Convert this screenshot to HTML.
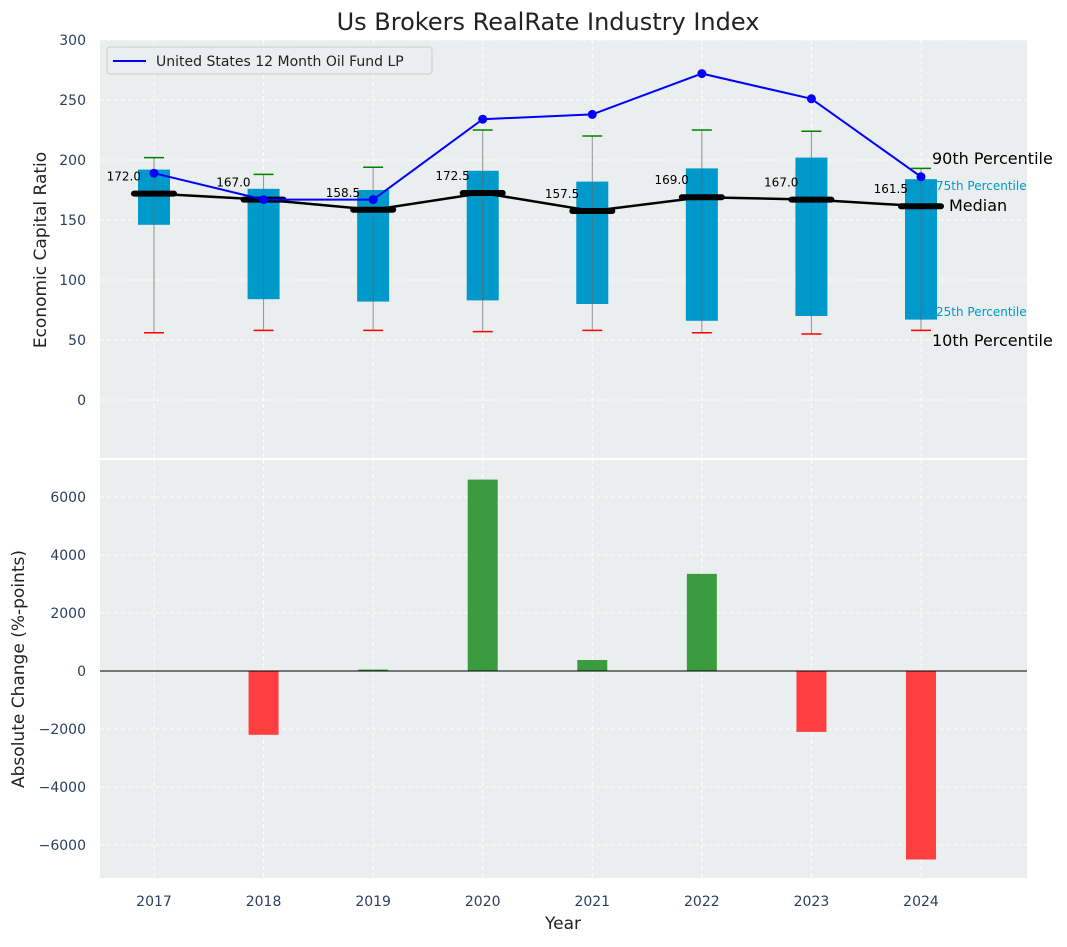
<!DOCTYPE html>
<html><head><meta charset="utf-8"><style>
body{margin:0;background:#fff;font-family:"Liberation Sans","DejaVu Sans",sans-serif}
text{font-family:"DejaVu Sans","Liberation Sans",sans-serif}
</style></head><body>
<svg id="c" width="1067" height="942" xmlns="http://www.w3.org/2000/svg">
<text x="548" y="30" text-anchor="middle" font-size="24" fill="#222">Us Brokers RealRate Industry Index</text>
<rect x="100" y="40" width="927" height="418" fill="#eaeeee"/>
<rect x="100" y="460" width="927" height="418" fill="#eaeeee"/>
<g id="g"></g>
<text transform="translate(46,250) rotate(-90)" text-anchor="middle" font-size="17" fill="#222">Economic Capital Ratio</text>
<text transform="translate(24,669) rotate(-90)" text-anchor="middle" font-size="17" fill="#222">Absolute Change (%-points)</text>
<text x="563" y="929" text-anchor="middle" font-size="17" fill="#222">Year</text>
<g>
<rect x="107" y="47" width="325" height="27" rx="3" fill="#eaeeee" stroke="#ccc"/>
<line x1="113" y1="61" x2="146" y2="61" stroke="#0000ff" stroke-width="2"/>
<text x="156" y="66" font-size="14" fill="#222">United States 12 Month Oil Fund LP</text>
</g>
<g font-size="16" fill="#000">
<text x="932" y="164">90th Percentile</text>
<text x="936" y="190" font-size="12" fill="#0099cc">75th Percentile</text>
<text x="949" y="211">Median</text>
<text x="936" y="316" font-size="12" fill="#0099cc">25th Percentile</text>
<text x="932" y="346">10th Percentile</text>
</g>
</svg>
<script>
const years=[2017,2018,2019,2020,2021,2022,2023,2024];
const q1=[146,84,82,83,80,66,70,67];
const q3=[192,176,175,191,182,193,202,184];
const p10=[56,58,58,57,58,56,55,58];
const p90=[202,188,194,225,220,225,224,193];
const med=[172,167,158.5,172.5,157.5,169,167,161.5];
const oil=[189,167,167,234,238,272,251,186];
const chg=[0,-2200,50,6600,380,3350,-2100,-6500];
const topTicks=[0,50,100,150,200,250,300];
const botTicks=[-6000,-4000,-2000,0,2000,4000,6000];
const NS="http://www.w3.org/2000/svg",g=document.getElementById('g');
const X=v=>154+(v-2017)*109.57;
const Y=v=>400-v*1.2;
const Y2=v=>671-v*0.029;
function el(t,a,txt){const e=document.createElementNS(NS,t);for(const k in a)e.setAttribute(k,a[k]);if(txt!=null)e.textContent=txt;g.appendChild(e);return e;}
topTicks.forEach(t=>{
 const l=el('line',{x1:100,x2:1027,y1:Y(t),y2:Y(t),stroke:'#fff','stroke-dasharray':'4,3'});
 
 const s=el('text',{x:86,y:Y(t)+5,'text-anchor':'end','font-size':14,fill:'#2a3f5f'},String(t));
 
});
botTicks.forEach(t=>{
 const l=el('line',{x1:100,x2:1027,y1:Y2(t),y2:Y2(t),stroke:'#fff','stroke-dasharray':'4,3'});
 
 const s=el('text',{x:86,y:Y2(t)+5,'text-anchor':'end','font-size':14,fill:'#2a3f5f'},String(t).replace('-','\u2212'));
 
});
years.forEach((y,i)=>{
 const x=X(y);
 let l=el('line',{x1:x,x2:x,y1:40,y2:458,stroke:'#fff','stroke-dasharray':'4,3'});
 
 l=el('line',{x1:x,x2:x,y1:460,y2:878,stroke:'#fff','stroke-dasharray':'4,3'});
 
 const t=el('text',{x:x,y:906,'text-anchor':'middle','font-size':14,fill:'#2a3f5f'},String(y));
 
 const b=el('rect',{x:x-16,y:Y(q3[i]),width:32,height:Y(q1[i])-Y(q3[i]),fill:'#0099cc'});
 
 const w=el('line',{x1:x,x2:x,y1:Y(p90[i]),y2:Y(p10[i]),stroke:'#666','stroke-opacity':0.7,'stroke-width':1});
 
 const c1=el('line',{x1:x-10,x2:x+10,y1:Y(p90[i]),y2:Y(p90[i]),stroke:'green','stroke-width':1.5});
 
 const c2=el('line',{x1:x-10,x2:x+10,y1:Y(p10[i]),y2:Y(p10[i]),stroke:'red','stroke-width':1.5});
 
 const v=chg[i];
 const r=el('rect',{x:x-15,y:Math.min(Y2(v),Y2(0)),width:30,height:Math.abs(Y2(v)-Y2(0)),fill:v>=0?'#3a9c3e':'#ff3f3f'});
 
});
let mp=el('polyline',{points:years.map((y,i)=>X(y)+','+Y(med[i])).join(' '),fill:'none',stroke:'#000','stroke-width':2.5});

years.forEach((y,i)=>{
 const x=X(y);
 const m=el('line',{x1:x-20,x2:x+20,y1:Y(med[i]),y2:Y(med[i]),stroke:'#000','stroke-width':6,'stroke-linecap':'round'});
 
 const t=el('text',{x:x-13,y:Y(med[i])-13,'text-anchor':'end','font-size':12,fill:'#000'},med[i].toFixed(1));
 
});
const op=el('polyline',{points:years.map((y,i)=>X(y)+','+Y(oil[i])).join(' '),fill:'none',stroke:'#0000ff','stroke-width':2});

years.forEach((y,i)=>{
 const c=el('circle',{cx:X(y),cy:Y(oil[i]),r:4.5,fill:'#0000ff'});
 
});
const z=el('line',{x1:100,x2:1027,y1:Y2(0),y2:Y2(0),stroke:'#000','stroke-width':1});

</script>
</body></html>
